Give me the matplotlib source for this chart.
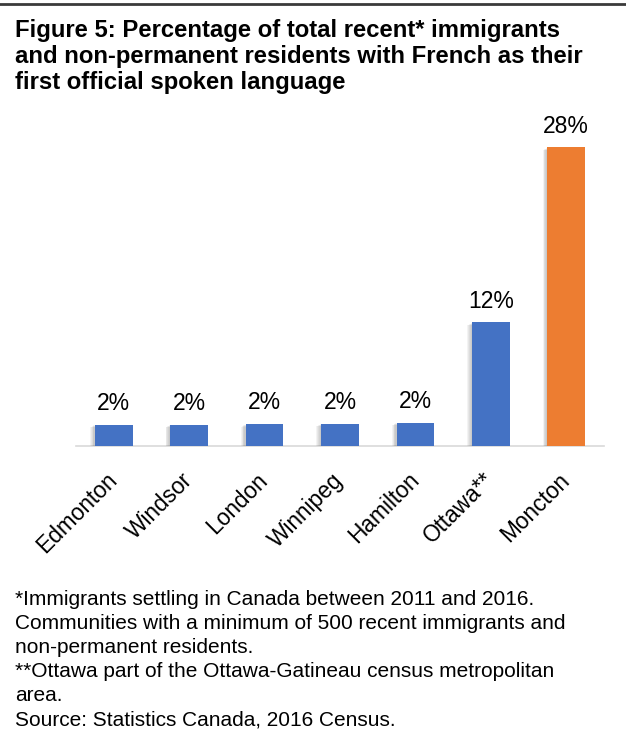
import matplotlib.pyplot as plt
import matplotlib.patheffects as pe
from matplotlib.lines import Line2D

# data
cities = ['Edmonton', 'Windsor', 'London', 'Winnipeg', 'Hamilton', 'Ottawa**', 'Moncton']
values = [2.0, 2.0, 2.05, 2.1, 2.2, 11.6, 28.0]
labels = ['2%', '2%', '2%', '2%', '2%', '12%', '28%']
colors = ['#4472C4'] * 6 + ['#ED7D31']

title = ('Figure 5: Percentage of total recent* immigrants\n'
         'and non-permanent residents with French as their\n'
         'first official spoken language')
notes = ('*Immigrants settling in Canada between 2011 and 2016.\n'
         'Communities with a minimum of 500 recent immigrants and\n'
         'non-permanent residents.\n'
         '**Ottawa part of the Ottawa-Gatineau census metropolitan\n'
         'area.\n'
         'Source: Statistics Canada, 2016 Census.')

plt.rcParams['font.family'] = ['Liberation Sans', 'DejaVu Sans']

W, H = 626, 740
fig = plt.figure(figsize=(W / 100, H / 100), dpi=100, facecolor='white')

# top rule
fig.add_artist(Line2D([0, 1], [1 - 4 / H, 1 - 4 / H], color='#3a3a3a', lw=2))

fig.text(15 / W, 1 - 19 / H, title, ha='left', va='top', fontsize=17.2,
         fontweight='bold', linespacing=1.17)

ax = fig.add_axes([76 / W, 1 - 446 / H, 528 / W, 336 / H])
x = range(len(cities))
bars = ax.bar(x, values, width=0.5, color=colors, zorder=3)

# soft shadow on the left, built from a few faint layers
shadow = [pe.SimplePatchShadow(offset=(-k, -0.6 * k), shadow_rgbFace='#555555', alpha=0.07)
          for k in (1, 1.6, 2.2, 2.8, 3.4)]
for b in bars:
    b.set_path_effects(shadow + [pe.Normal()])

for b, lab in zip(bars, labels):
    ax.annotate(lab, (b.get_x() + b.get_width() / 2, b.get_height()),
                xytext=(0, 7), textcoords='offset points',
                ha='center', va='bottom', fontsize=16.5)

ax.set_xlim(-0.5, len(cities) - 0.5)
ax.set_ylim(0, 31.5)
ax.set_yticks([])
for s in ['top', 'right', 'left']:
    ax.spines[s].set_visible(False)
ax.spines['bottom'].set_color('#d9d9d9')
ax.spines['bottom'].set_linewidth(1.2)
ax.set_xticks(list(x))
ax.set_xticklabels(cities, rotation=45, ha='right', va='center',
                   rotation_mode='anchor', fontsize=16.3)
ax.tick_params(axis='x', length=0, pad=22)

fig.text(15 / W, 1 - 590 / H, notes, ha='left', va='top', fontsize=15,
         linespacing=1.335)

fig.savefig('out.png', dpi=100)
